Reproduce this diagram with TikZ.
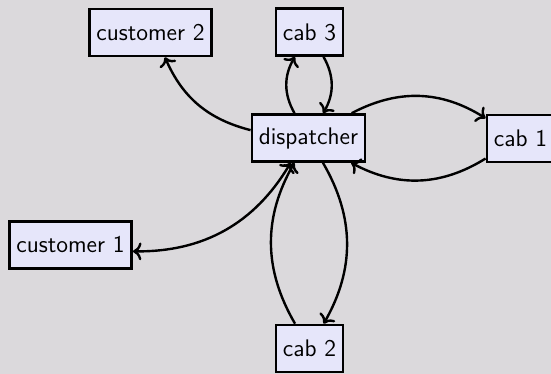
\documentclass[tikz,border=0pt]{standalone}
\usetikzlibrary{arrows.meta}
\definecolor{bg}{RGB}{219,217,220}
\definecolor{boxfill}{RGB}{230,230,250}
\begin{document}
\begin{tikzpicture}[x=0.5pt,y=-0.5pt,
  box/.style={draw=black,fill=boxfill,line width=1.3pt,font=\sffamily\large,
    inner xsep=3.5pt,minimum height=23.5pt,anchor=center},
  link/.style={line width=1.2pt,->}]
\fill[bg] (0,0) rectangle (551,374);
\useasboundingbox (0,0) rectangle (551,374);
\node[box] (disp) at (308.5,138) {dispatcher};
\node[box] (c2) at (150.5,32.5) {customer 2};
\node[box] (cab3) at (309.5,32) {cab 3};
\node[box] (cab1) at (520.5,138.5) {cab 1};
\node[box] (c1) at (70.5,245) {customer 1};
\node[box] (cab2) at (309.5,348.5) {cab 2};
\draw[link] (disp) to[bend left=26] (c2);
\draw[link] (disp) to[bend left=30] (cab3);
\draw[link] (cab3) to[bend left=30] (disp);
\draw[link] (disp) to[bend left=30] (cab1);
\draw[link] (cab1) to[bend left=30] (disp);
\draw[link] (disp) to[bend left=30] (cab2);
\draw[link] (cab2) to[bend left=30] (disp);
\draw[line width=1.2pt,<->] (c1) to[bend right=30] (disp);
\end{tikzpicture}
\end{document}
